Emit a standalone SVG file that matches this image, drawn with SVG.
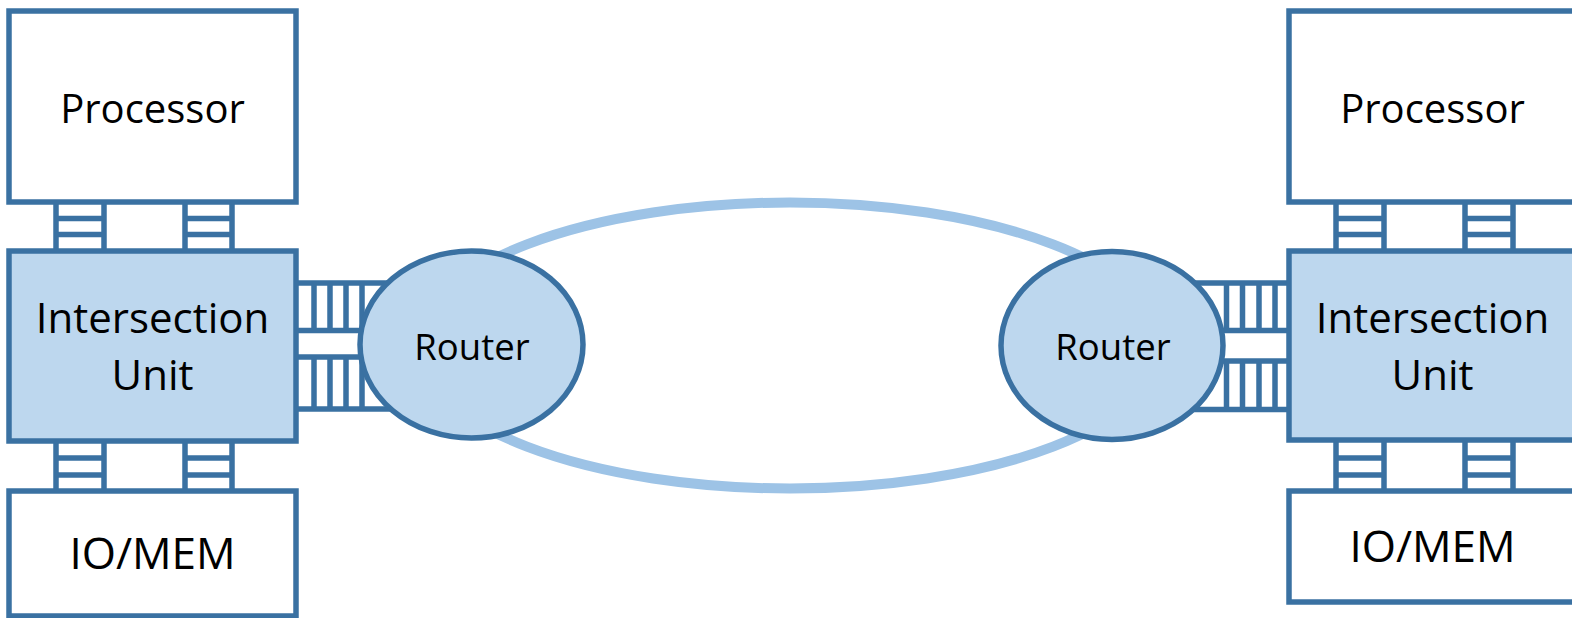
<svg xmlns="http://www.w3.org/2000/svg" width="1572" height="618" viewBox="0 0 1572 618">
  <style>
    .box { stroke: #3A71A2; stroke-width: 5.5; }
    .plain { fill: #FFFFFF; }
    .tint { fill: #BDD7EE; }
    .lad { fill: none; stroke: #3A71A2; stroke-width: 5.5; }
    .ring { fill: none; stroke: #9DC3E6; stroke-width: 10; }
    .lbl { font-family: "Open Sans", "Liberation Sans", sans-serif; fill: #000000; text-anchor: middle; }
    .p { font-size: 40px; }
    .iu { font-size: 42px; }
    .io { font-size: 44px; }
    .small { font-size: 36.5px; }
  </style>

  <!-- white page -->
  <rect x="0" y="0" width="1572" height="618" fill="#FFFFFF"/>

  <!-- links: ring between the routers and the parallel buses -->
  <g id="connectors">
    <ellipse class="ring" cx="790" cy="345.5" rx="372" ry="143"/>

    <!-- left side: processor <-> intersection unit -->
    <path class="lad" d="M56 202V251M104 202V251M56 218.5H104M56 234.5H104M185 202V251M232 202V251M185 218.5H232M185 234.5H232"/>
    <!-- left side: intersection unit <-> IO/MEM -->
    <path class="lad" d="M56 441V491M104 441V491M56 458H104M56 475H104M185 441V491M232 441V491M185 458H232M185 475H232"/>
    <!-- left side: intersection unit <-> router -->
    <path class="lad" d="M296 283H400M296 330.5H400M314 283V330.5M330 283V330.5M346 283V330.5M362 283V330.5"/>
    <path class="lad" d="M296 357H400M296 409H400M314 357V409M330 357V409M346 357V409M362 357V409"/>

    <!-- right side: processor <-> intersection unit -->
    <path class="lad" d="M1336 202V251M1384 202V251M1336 218.5H1384M1336 234.5H1384M1465 202V251M1513 202V251M1465 218.5H1513M1465 234.5H1513"/>
    <!-- right side: intersection unit <-> IO/MEM -->
    <path class="lad" d="M1336 441V491M1384 441V491M1336 458H1384M1336 475H1384M1465 441V491M1513 441V491M1465 458H1513M1465 475H1513"/>
    <!-- right side: router <-> intersection unit -->
    <path class="lad" d="M1289 283H1180M1289 330.5H1180M1226.5 283V330.5M1242.5 283V330.5M1259 283V330.5M1275 283V330.5"/>
    <path class="lad" d="M1289 361H1180M1289 409.5H1180M1226.5 361V409.5M1242.5 361V409.5M1259 361V409.5M1275 361V409.5"/>
  </g>

  <!-- left node -->
  <g id="processor-left">
    <rect class="box plain" x="9" y="11" width="287" height="191"/>
    <text class="lbl p" x="152.5" y="123">Processor</text>
  </g>
  <g id="intersection-left">
    <rect class="box tint" x="9" y="251" width="287" height="190"/>
    <text class="lbl iu" x="152.5" y="333">Intersection</text>
    <text class="lbl iu" x="152.5" y="390">Unit</text>
  </g>
  <g id="iomem-left">
    <rect class="box plain" x="9" y="491" width="287" height="125"/>
    <text class="lbl io" x="152.5" y="569">IO/MEM</text>
  </g>
  <g id="router-left">
    <ellipse class="box tint" cx="471.5" cy="344.5" rx="111.5" ry="93.5"/>
    <text class="lbl small" x="472" y="360">Router</text>
  </g>

  <!-- right node -->
  <g id="router-right">
    <ellipse class="box tint" cx="1112" cy="345.5" rx="111" ry="94"/>
    <text class="lbl small" x="1113" y="360">Router</text>
  </g>
  <g id="processor-right">
    <rect class="box plain" x="1289" y="11" width="287" height="191"/>
    <text class="lbl p" x="1432.5" y="123">Processor</text>
  </g>
  <g id="intersection-right">
    <rect class="box tint" x="1289" y="251" width="287" height="189"/>
    <text class="lbl iu" x="1432.5" y="333">Intersection</text>
    <text class="lbl iu" x="1432.5" y="390">Unit</text>
  </g>
  <g id="iomem-right">
    <rect class="box plain" x="1289" y="491" width="287" height="111"/>
    <text class="lbl io" x="1432.5" y="562">IO/MEM</text>
  </g>
</svg>
